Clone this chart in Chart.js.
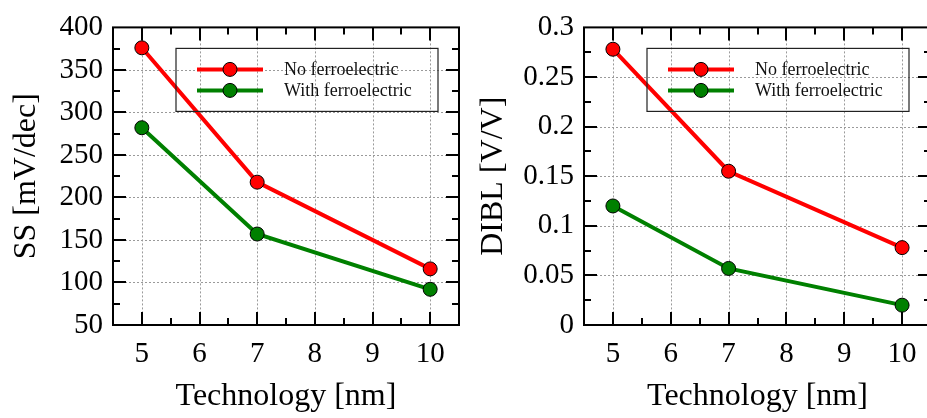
<!DOCTYPE html>
<html>
<head>
<meta charset="utf-8">
<script src="https://cdn.jsdelivr.net/npm/chart.js@4/dist/chart.umd.min.js"></script>
<style>
  html, body { margin: 0; padding: 0; background: #fff; overflow: hidden; }
  #wrap { position: relative; width: 927px; height: 418px; overflow: hidden; }
  #ssCanvas { position: absolute; left: 0; top: 0; }
  #diblCanvas { position: absolute; left: 470px; top: 0; }
</style>
</head>
<body>
<div id="wrap">
  <canvas id="ssCanvas" width="470" height="418"></canvas>
  <canvas id="diblCanvas" width="475" height="418"></canvas>
</div>
<script>
// Dados
const techNodes = [5, 7, 10];
const ssNoFe = [376, 218, 116];
const ssWithFe = [282, 157, 92];
const diblNoFe = [0.278, 0.155, 0.078];
const diblWithFe = [0.12, 0.057, 0.02];

const xTicks = [5, 6, 7, 8, 9, 10];
const ssTicks = [50, 100, 150, 200, 250, 300, 350, 400];
const diblTicks = [0, 0.05, 0.1, 0.15, 0.2, 0.25, 0.3];

const seriesLabels = ['No ferroelectric', 'With ferroelectric'];
const seriesColors = ['#ff0000', '#008000'];

const FONT = "'Liberation Serif', 'DejaVu Serif', serif";

function toPoints(ys) {
    return techNodes.map((x, i) => ({ x: x, y: ys[i] }));
}

// Moldura, grade pontilhada, ticks para dentro e legenda com caixa
const framePlugin = {
    id: 'frame',
    beforeDatasetsDraw(chart) {
        const { ctx, chartArea: a, scales } = chart;
        ctx.save();
        ctx.strokeStyle = '#9a9a9a';
        ctx.lineWidth = 1;
        ctx.setLineDash([2, 2]);
        scales.x.ticks.forEach(t => {
            const px = Math.round(scales.x.getPixelForValue(t.value)) + 0.5;
            ctx.beginPath(); ctx.moveTo(px, a.top); ctx.lineTo(px, a.bottom); ctx.stroke();
        });
        scales.y.ticks.forEach(t => {
            const py = Math.round(scales.y.getPixelForValue(t.value)) + 0.5;
            ctx.beginPath(); ctx.moveTo(a.left, py); ctx.lineTo(a.right, py); ctx.stroke();
        });
        ctx.restore();
    },
    afterDatasetsDraw(chart) {
        const { ctx, chartArea: a, scales } = chart;
        ctx.save();
        ctx.strokeStyle = '#000';
        ctx.lineWidth = 2;
        const tickMarks = (scale, horizontal) => {
            const vals = scale.ticks.map(t => t.value);
            const minor = [];
            for (let i = 0; i < vals.length - 1; i++) minor.push((vals[i] + vals[i + 1]) / 2);
            if (horizontal) {
                minor.push(vals[0] - (vals[1] - vals[0]) / 2);
                minor.push(vals[vals.length - 1] + (vals[1] - vals[0]) / 2);
            }
            const draw = (v, len) => {
                const p = Math.round(scale.getPixelForValue(v));
                if (horizontal) {
                    if (p <= a.left + 1 || p >= a.right - 1) return;
                    ctx.beginPath(); ctx.moveTo(p, a.bottom); ctx.lineTo(p, a.bottom - len); ctx.stroke();
                    ctx.beginPath(); ctx.moveTo(p, a.top); ctx.lineTo(p, a.top + len); ctx.stroke();
                } else {
                    if (p <= a.top + 1 || p >= a.bottom - 1) return;
                    ctx.beginPath(); ctx.moveTo(a.left, p); ctx.lineTo(a.left + len, p); ctx.stroke();
                    ctx.beginPath(); ctx.moveTo(a.right, p); ctx.lineTo(a.right - len, p); ctx.stroke();
                }
            };
            vals.forEach(v => draw(v, 13));
            minor.forEach(v => draw(v, 7));
        };
        tickMarks(scales.x, true);
        tickMarks(scales.y, false);

        ctx.lineWidth = 2;
        ctx.strokeRect(a.left, a.top, a.right - a.left, a.bottom - a.top);

        // Legenda
        const bx = a.left + 63, by = a.top + 21, bw = 262, bh = 63;
        ctx.lineWidth = 1.2;
        ctx.strokeStyle = '#222';
        ctx.strokeRect(bx, by, bw, bh);
        chart.data.datasets.forEach((ds, i) => {
            const ry = by + 21 + i * 21;
            ctx.strokeStyle = ds.borderColor;
            ctx.lineWidth = 4;
            ctx.beginPath(); ctx.moveTo(bx + 21, ry); ctx.lineTo(bx + 87, ry); ctx.stroke();
            ctx.beginPath();
            ctx.arc(bx + 54, ry, 7, 0, Math.PI * 2);
            ctx.fillStyle = ds.pointBackgroundColor;
            ctx.fill();
            ctx.lineWidth = 1;
            ctx.strokeStyle = '#000';
            ctx.stroke();
            ctx.fillStyle = '#111';
            ctx.font = '18px ' + FONT;
            ctx.textBaseline = 'middle';
            ctx.textAlign = 'left';
            ctx.fillText(ds.label, bx + 108, ry + 1);
        });
        ctx.restore();
    }
};

function makeChart(canvasId, yValsA, yValsB, yTicks, yMin, yMax, yTitle, yAxisWidth, padRight, yTitlePad) {
    const ctx = document.getElementById(canvasId).getContext('2d');
    return new Chart(ctx, {
        type: 'line',
        data: {
            datasets: [yValsA, yValsB].map((vals, i) => ({
                label: seriesLabels[i],
                data: toPoints(vals),
                borderColor: seriesColors[i],
                backgroundColor: seriesColors[i],
                pointBackgroundColor: seriesColors[i],
                pointBorderColor: '#000',
                pointBorderWidth: 1,
                pointRadius: 7,
                borderWidth: 4,
                tension: 0
            }))
        },
        options: {
            responsive: false,
            animation: false,
            devicePixelRatio: 1,
            layout: { padding: { top: 19, right: padRight, left: 0, bottom: 0 } },
            plugins: {
                legend: { display: false },
                tooltip: { enabled: false }
            },
            scales: {
                x: {
                    type: 'linear',
                    min: 4.5,
                    max: 10.5,
                    afterBuildTicks: s => { s.ticks = xTicks.map(v => ({ value: v })); },
                    afterFit: s => { s.height = 93; },
                    grid: { display: false, drawTicks: false },
                    border: { display: false },
                    ticks: {
                        color: '#000',
                        padding: 12,
                        font: { family: FONT, size: 29 },
                        callback: v => String(v)
                    },
                    title: {
                        display: true,
                        text: 'Technology [nm]',
                        color: '#000',
                        padding: { top: 1, bottom: 2 },
                        font: { family: FONT, size: 32 }
                    }
                },
                y: {
                    type: 'linear',
                    min: yMin,
                    max: yMax,
                    afterBuildTicks: s => { s.ticks = yTicks.map(v => ({ value: v })); },
                    afterFit: s => { s.width = yAxisWidth; },
                    grid: { display: false, drawTicks: false },
                    border: { display: false },
                    ticks: {
                        color: '#000',
                        padding: 10,
                        font: { family: FONT, size: 29 },
                        callback: v => String(v)
                    },
                    title: {
                        display: true,
                        text: yTitle,
                        color: '#000',
                        padding: { top: yTitlePad, bottom: 0 },
                        font: { family: FONT, size: 32 }
                    }
                }
            }
        },
        plugins: [framePlugin]
    });
}

makeChart('ssCanvas', ssNoFe, ssWithFe, ssTicks, 50, 400, 'SS [mV/dec]', 113, 11, 7);
makeChart('diblCanvas', diblNoFe, diblWithFe, diblTicks, 0, 0.3, 'DIBL [V/V]', 114, 14, 4);
</script>
</body>
</html>
